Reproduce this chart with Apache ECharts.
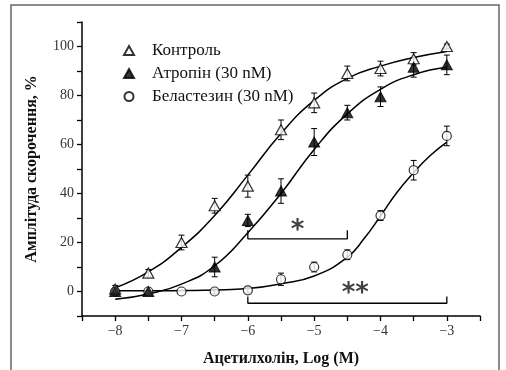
<!DOCTYPE html>
<html><head><meta charset="utf-8">
<script src="https://cdn.jsdelivr.net/npm/echarts@6/dist/echarts.min.js"></script>
<style>html,body{margin:0;padding:0;background:#fff}#c{width:506px;height:370px}</style>
</head><body><div id="c"></div>
<script>
// ---- data ----
const xTicks = [-8, -7, -6, -5, -4, -3];
const yTicks = [0, 20, 40, 60, 80, 100];

const controlX   = [-8, -7.5, -7, -6.5, -6, -5.5, -5, -4.5, -4, -3.5, -3];
const controlY   = [1, 7.5, 20, 35, 43, 66, 77, 89, 91, 95, 100];
const controlErr = [1.5, 1.5, 3, 3, 4.5, 4, 4, 3, 3, 2.5, 1];

const atropX   = [-8, -7.5, -6.5, -6, -5.5, -5, -4.5, -4, -3.5, -3];
const atropY   = [0, 0, 10, 29, 41, 61, 73, 79.5, 91.5, 92.5];
const atropErr = [0, 0, 4, 2.5, 5, 5.5, 3, 4, 4, 4];

const belaX   = [-8, -7.5, -7, -6.5, -6, -5.5, -5, -4.5, -4, -3.5, -3];
const belaY   = [0, 0, 0, 0, 0.5, 5, 10, 15, 31, 49.5, 63.5];
const belaErr = [0, 0, 0, 1, 1, 2.5, 2, 2, 2, 4, 4];

// fitted curves
const curveX        = [-8, -7.5, -7, -6.5, -6, -5.5, -5, -4.5, -4, -3.5, -3];
const controlCurve  = [1.5, 8, 18, 31, 47.5, 64.5, 78, 87, 92, 95.5, 98];
const atropCurve    = [-3.2, -1, 3, 10.5, 24, 40, 58, 72.5, 82.5, 88.5, 91.5];
const belaCurveX    = [-8, -7.5, -7, -6.5, -6, -5.5, -5, -4.5, -4.25, -4, -3.75, -3.5, -3.25, -3];
const belaCurve     = [0.3, 0.3, 0.4, 0.6, 1.2, 3.2, 6.3, 14, 21.5, 30.8, 40.5, 48.5, 55.5, 61];

// significance brackets
const bracket1 = [[-6, 25], [-6, 21.5], [-4.5, 21.5], [-4.5, 25]];
const bracket2 = [[-6, -2], [-6, -4.8], [-3, -4.8], [-3, -2]];
const starMarks = [[-5.25, 24.5, '*'], [-4.38, -1.2, '**']];

const names = ['Контроль', 'Атропін (30 nM)', 'Беластезин (30 nM)'];

// ---- build ----
const zip = (xs, ys) => xs.map((x, i) => [x, ys[i]]);
const zip3 = (xs, ys, es) => xs.map((x, i) => [x, ys[i], es[i]]);
const serif = 'Liberation Serif';

function errSeries(data) {
  return {
    type: 'custom', z: 2, silent: true,
    data: data,
    renderItem: function (params, api) {
      const x = api.value(0), y = api.value(1), e = api.value(2);
      if (!e) return null;
      const top = api.coord([x, y + e]);
      const bot = api.coord([x, y - e]);
      const w = 3;
      return {
        type: 'group', children: [
          { type: 'line', shape: { x1: top[0], y1: top[1], x2: bot[0], y2: bot[1] }, style: { stroke: '#000', lineWidth: 1 } },
          { type: 'line', shape: { x1: top[0] - w, y1: top[1], x2: top[0] + w, y2: top[1] }, style: { stroke: '#000', lineWidth: 1 } },
          { type: 'line', shape: { x1: bot[0] - w, y1: bot[1], x2: bot[0] + w, y2: bot[1] }, style: { stroke: '#000', lineWidth: 1 } }
        ]
      };
    }
  };
}
function curve(data) {
  return { type: 'line', data: data, smooth: 0.5, showSymbol: false, silent: true, z: 1,
    lineStyle: { color: '#000', width: 1.5 } };
}
function bracket(data) {
  return { type: 'line', data: data, showSymbol: false, silent: true, z: 1,
    lineStyle: { color: '#000', width: 1.3 } };
}

const chart = echarts.init(document.getElementById('c'));
chart.setOption({
  animation: false,
  backgroundColor: '#fff',
  graphic: [{ type: 'rect', shape: { x: 11, y: 5, width: 488, height: 372 }, style: { fill: 'none', stroke: '#666', lineWidth: 1.5 }, z: -1 }],
  grid: { left: 82, right: 26, top: 22, bottom: 54, outerBoundsMode: 'none', containLabel: false },
  legend: {
    orient: 'vertical', left: 118, top: 37, itemGap: 6, itemWidth: 10, itemHeight: 9,
    data: names,
    textStyle: { fontFamily: serif, fontSize: 17, color: '#111', padding: [0, 0, 0, 13] }
  },
  xAxis: {
    type: 'value', min: -8.5, max: -2.5, interval: 0.5,
    name: 'Ацетилхолін, Log (M)', nameLocation: 'middle', nameGap: 35,
    nameTextStyle: { fontFamily: serif, fontSize: 16, fontWeight: 'bold', color: '#111' },
    axisLine: { onZero: false, lineStyle: { color: '#000', width: 1.5 } },
    axisTick: { length: 5, lineStyle: { color: '#000', width: 1.3 } },
    axisLabel: { fontFamily: serif, fontSize: 14, color: '#333', margin: 8,
      formatter: v => xTicks.indexOf(v) >= 0 ? String(v).replace('-', '\u2212') : '' },
    splitLine: { show: false }
  },
  yAxis: {
    type: 'value', min: -10, max: 110, interval: 10,
    name: 'Амплітуда скорочення, %', nameLocation: 'middle', nameGap: 42,
    nameTextStyle: { fontFamily: serif, fontSize: 16, fontWeight: 'bold', color: '#111' },
    axisLine: { show: true, onZero: false, lineStyle: { color: '#000', width: 1.5 } },
    axisTick: { show: true, length: 5, lineStyle: { color: '#000', width: 1.3 } },
    axisLabel: { fontFamily: serif, fontSize: 14, color: '#333', margin: 8,
      formatter: v => yTicks.indexOf(v) >= 0 ? String(v) : '' },
    splitLine: { show: false }
  },
  series: [
    curve(zip(curveX, controlCurve)),
    curve(zip(curveX, atropCurve)),
    curve(zip(belaCurveX, belaCurve)),
    bracket(bracket1),
    bracket(bracket2),
    errSeries(zip3(controlX, controlY, controlErr)),
    errSeries(zip3(atropX, atropY, atropErr)),
    errSeries(zip3(belaX, belaY, belaErr)),
    { name: names[2], type: 'scatter', z: 3, data: zip(belaX, belaY), symbol: 'circle', symbolSize: 9,
      itemStyle: { color: '#fff', borderColor: '#000', borderWidth: 1.2 } },
    { name: names[0], type: 'scatter', z: 4, data: zip(controlX, controlY), symbol: 'triangle', symbolSize: [11, 10],
      itemStyle: { color: '#fff', borderColor: '#000', borderWidth: 1.2 } },
    { name: names[1], type: 'scatter', z: 5, data: zip(atropX, atropY), symbol: 'triangle', symbolSize: [11, 10],
      itemStyle: { color: '#000', borderColor: '#000', borderWidth: 1 } },
    { type: 'scatter', z: 6, silent: true, data: starMarks, symbolSize: 0,
      label: { show: true, position: 'inside', formatter: p => p.data[2], fontFamily: 'DejaVu Sans', fontSize: 26, fontWeight: 'bold', color: '#111' } }
  ]
});
</script></body></html>
